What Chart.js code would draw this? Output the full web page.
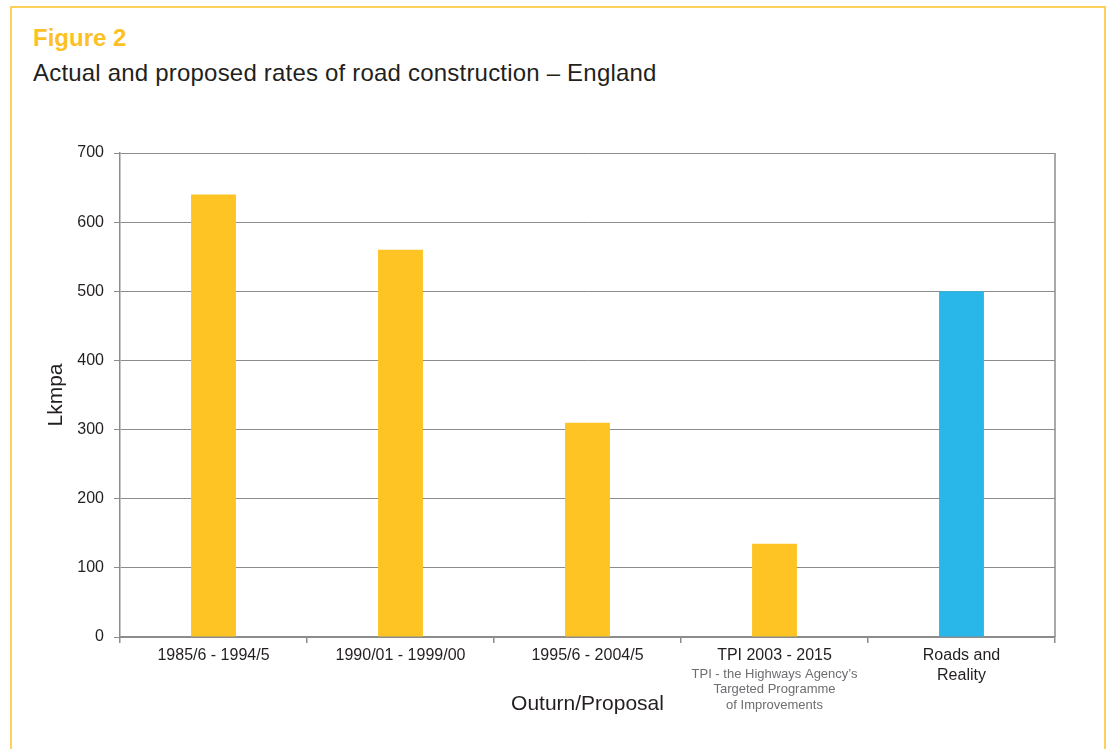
<!DOCTYPE html>
<html>
<head>
<meta charset="utf-8">
<title>Figure 2</title>
<script src="https://cdn.jsdelivr.net/npm/chart.js@4.4.1/dist/chart.umd.min.js"></script>
<style>
  html, body { margin: 0; padding: 0; background: #fff; overflow: hidden; }
  #frame { position: absolute; left: 10px; top: 6px; width: 1092px; height: 800px; border: 2px solid #fdd25c; }
  .fig { position: absolute; left: 33px; top: 26px; font: bold 24px/24px "Liberation Sans", Arial, sans-serif; color: #fdc123; }
  .sub { position: absolute; left: 33px; top: 61px; font: 24px/24px "Liberation Sans", Arial, sans-serif; letter-spacing: 0.2px; color: #231f20; }
  #wrap { position: absolute; left: 0; top: 0; width: 1109px; height: 749px; }
</style>
</head>
<body>
<div id="frame"></div>
<div class="fig">Figure 2</div>
<div class="sub">Actual and proposed rates of road construction – England</div>
<div id="wrap"><canvas id="chart"></canvas></div>

<script>
// data
const categories = ["1985/6 - 1994/5", "1990/01 - 1999/00", "1995/6 - 2004/5", "TPI 2003 - 2015", ["Roads and", "Reality"]];
const values = [640, 560, 310, 135, 500];
const barColors = ["#fdc423", "#fdc423", "#fdc423", "#fdc423", "#29b6e9"];
const yMin = 0, yMax = 700, yStep = 100;
const tpiNote = ["TPI - the Highways Agency’s", "Targeted Programme", "of Improvements"];
const tpiIndex = 3;

Chart.defaults.font.family = '"Liberation Sans", Arial, sans-serif';
const gridColor = "#8c8c8c";
const textColor = "#231f20";

// right edge of the plot box + the small note under the TPI label
const extras = {
  id: "extras",
  afterDraw(chart) {
    const { ctx, chartArea: a, scales: { x } } = chart;
    ctx.save();
    ctx.strokeStyle = gridColor;
    ctx.lineWidth = 1.5;
    ctx.beginPath();
    ctx.moveTo(a.right, a.top);
    ctx.lineTo(a.right, a.bottom);
    ctx.stroke();

    ctx.font = '13px "Liberation Sans", Arial, sans-serif';
    ctx.fillStyle = "#6d6e71";
    ctx.textAlign = "center";
    ctx.textBaseline = "middle";
    const cx = x.getPixelForValue(tpiIndex);
    tpiNote.forEach((line, i) => {
      ctx.fillText(line, cx, a.bottom + 37 + i * 15.5);
    });
    ctx.restore();
  }
};

new Chart(document.getElementById("chart"), {
  type: "bar",
  data: {
    labels: categories,
    datasets: [{
      data: values,
      backgroundColor: barColors,
      borderWidth: 0,
      categoryPercentage: 1,
      barPercentage: 0.24
    }]
  },
  options: {
    responsive: true,
    maintainAspectRatio: false,
    animation: false,
    layout: {
      autoPadding: false,
      padding: { left: 30, top: 153, right: 54, bottom: 0 }
    },
    plugins: {
      legend: { display: false },
      tooltip: { enabled: false }
    },
    scales: {
      x: {
        grid: { drawOnChartArea: false, color: gridColor, tickLength: 6, lineWidth: 1.5 },
        border: { color: gridColor, width: 1.5 },
        ticks: {
          color: textColor,
          font: { size: 16, lineHeight: 1.25 },
          padding: 3,
          maxRotation: 0,
          autoSkip: false
        },
        title: {
          display: true,
          text: "Outurn/Proposal",
          color: textColor,
          font: { size: 21 },
          padding: { top: 0, bottom: 32 }
        },
        afterFit(scale) { scale.height = 112; }
      },
      y: {
        min: yMin,
        max: yMax,
        grid: { color: gridColor, tickLength: 6, lineWidth: 1 },
        border: { color: gridColor, width: 1.5 },
        ticks: {
          stepSize: yStep,
          color: textColor,
          font: { size: 16 },
          padding: 10
        },
        title: {
          display: true,
          text: "Lkmpa",
          color: textColor,
          font: { size: 21 },
          padding: { top: 14, bottom: 0 }
        },
        afterFit(scale) { scale.width = 90; }
      }
    }
  },
  plugins: [extras]
});
</script>
</body>
</html>
